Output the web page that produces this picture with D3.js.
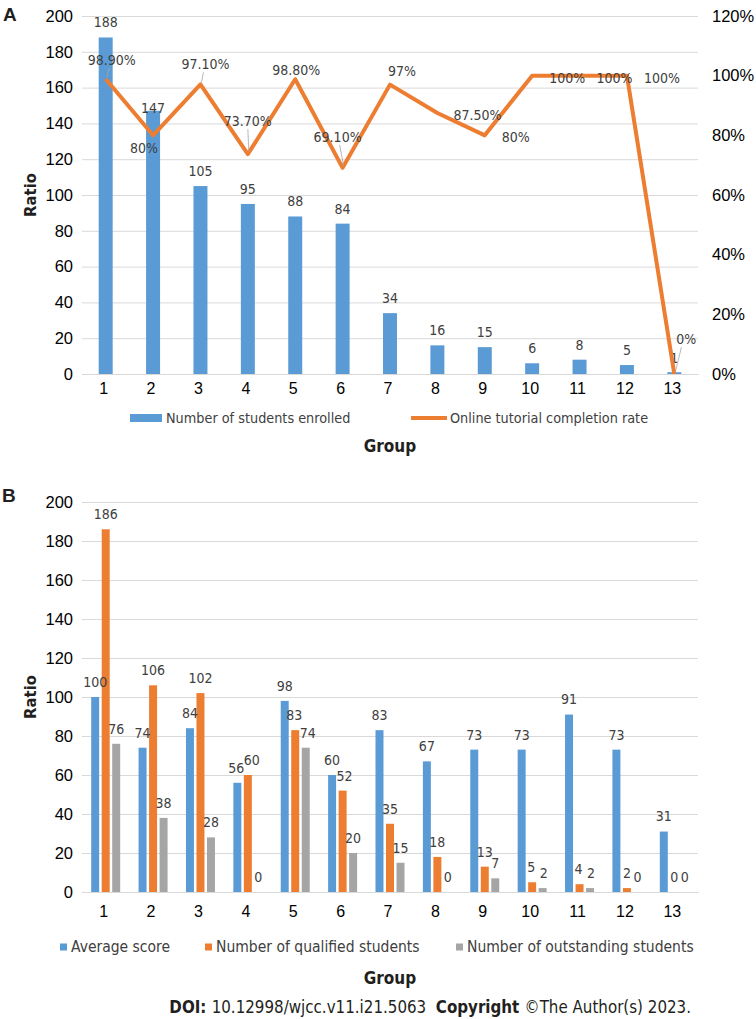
<!DOCTYPE html>
<html>
<head>
<meta charset="utf-8">
<script src="https://cdn.jsdelivr.net/npm/d3@7"></script>
<style>
  body { margin: 0; background: #fff; }
  svg { display: block; font-family: 'DejaVu Sans Condensed', 'DejaVu Sans', sans-serif; font-stretch: condensed; }
</style>
</head>
<body>
<div class="chart"></div>
<script>
// ---- data ----
const groups = ["1","2","3","4","5","6","7","8","9","10","11","12","13"];

// panel A
const enrolled = [188, 147, 105, 95, 88, 84, 34, 16, 15, 6, 8, 5, 1];
const completion = [98.9, 80, 97.1, 73.7, 98.8, 69.1, 97, 87.5, 80, 100, 100, 100, 0];
const completionLabels = ["98.90%","80%","97.10%","73.70%","98.80%","69.10%","97%","87.50%","80%","100%","100%","100%","0%"];
const ticksA = [0, 20, 40, 60, 80, 100, 120, 140, 160, 180, 200];
const ticksRight = [0, 20, 40, 60, 80, 100, 120];

// panel B
const avgScore = [100, 74, 84, 56, 98, 60, 83, 67, 73, 73, 91, 73, 31];
const qualified = [186, 106, 102, 60, 83, 52, 35, 18, 13, 5, 4, 2, 0];
const outstanding = [76, 38, 28, 0, 74, 20, 15, 0, 7, 2, 2, 0, 0];
const ticksB = [0, 20, 40, 60, 80, 100, 120, 140, 160, 180, 200];
const seriesB = ["Average score", "Number of qualified students", "Number of outstanding students"];

// label nudges (styling only): [dx, dy, draw leader line]
const lineLabelNudge = [[6,-19,1],[-9,13,0],[5,-20,1],[0,-33,1],[1,-9,0],[-5,-31,1],[12,-14,0],
  [40,2,0],[31,2,0],[35,2,0],[35,2,0],[35,2,0],[12,-35,1]];
const barLabelNudgeA = [-15,-3,-15,-15,-15,-15,-15,-15,-15,-15,-15,-15,-14];
// horizontal nudges for crowded labels in B: [group index, series index, dx]
const barLabelNudgeB = [[3,0,-1],[3,1,4],[4,1,-1],[4,2,2],[5,1,2],[9,1,-1],[9,2,1],[10,1,-1],[10,2,1]];

const blue = "#5B9BD5", orange = "#ED7D31", gray = "#A5A5A5";
const gridColor = "#D9D9D9", labelColor = "#404040", titleColor = "#231F20";

const W = 756, H = 1019;
const svg = d3.select(".chart").append("svg")
  .attr("width", W).attr("height", H);
svg.append("rect").attr("width", W).attr("height", H).attr("fill", "#fff");

const left = 82, right = 698;

function frame(g, y, ticks) {
  const yAx = g.append("g")
    .attr("transform", `translate(${left},0)`)
    .call(d3.axisLeft(y).tickValues(ticks).tickSize(-(right - left)).tickPadding(9));
  yAx.select(".domain").remove();
  yAx.selectAll(".tick line").attr("stroke", gridColor);
  yAx.selectAll(".tick text").attr("font-size", 16.5).attr("fill", "#000");
  return yAx;
}

function bottomAxis(g, x, y0, pad) {
  const ax = g.append("g")
    .attr("transform", `translate(0,${y0})`)
    .call(d3.axisBottom(x).tickSize(0).tickPadding(pad));
  ax.select(".domain").attr("stroke", gridColor);
  ax.selectAll(".tick text").attr("font-size", 16).attr("fill", "#000").attr("dx", -2);
}

// ================= Panel A =================
const gA = svg.append("g");
const xA = d3.scaleBand().domain(groups).range([left, right]).paddingInner(0.705).paddingOuter(0.3525);
const yA = d3.scaleLinear().domain([0, 200]).range([374, 16]);
const yR = d3.scaleLinear().domain([0, 120]).range([374, 16]);

frame(gA, yA, ticksA);
bottomAxis(gA, xA, 374, 9);

const rAx = gA.append("g")
  .attr("transform", `translate(${right},0)`)
  .call(d3.axisRight(yR).tickValues(ticksRight).tickSize(0).tickPadding(14).tickFormat(d => d + "%"));
rAx.select(".domain").remove();
rAx.selectAll(".tick text").attr("font-size", 16.5).attr("fill", "#000");

gA.append("g").selectAll("rect")
  .data(enrolled)
  .join("rect")
  .attr("x", (d, i) => xA(groups[i]))
  .attr("y", d => yA(d))
  .attr("width", xA.bandwidth())
  .attr("height", d => yA(0) - yA(d))
  .attr("fill", blue);

gA.append("g")
  .attr("font-size", 14)
  .attr("fill", labelColor)
  .attr("text-anchor", "middle")
  .selectAll("text")
  .data(enrolled)
  .join("text")
  .attr("x", (d, i) => xA(groups[i]) + xA.bandwidth() / 2)
  .attr("y", (d, i) => yA(d) + barLabelNudgeA[i])
  .attr("dy", "0.35em")
  .text(d => d);

const cx = (i) => xA(groups[i]) + xA.bandwidth() / 2;
const line = d3.line()
  .x((d, i) => cx(i))
  .y(d => yR(d));

gA.append("path")
  .datum(completion)
  .attr("fill", "none")
  .attr("stroke", orange)
  .attr("stroke-width", 4)
  .attr("stroke-linejoin", "round")
  .attr("d", line);

// leader lines
gA.append("g")
  .attr("stroke", "#A6A6A6")
  .attr("stroke-width", 0.8)
  .selectAll("line")
  .data(completion.map((d, i) => ({ v: d, i })).filter(d => lineLabelNudge[d.i][2]))
  .join("line")
  .attr("x1", d => cx(d.i) + lineLabelNudge[d.i][0] * 0.6)
  .attr("y1", d => yR(d.v) + lineLabelNudge[d.i][1] + (lineLabelNudge[d.i][1] < 0 ? 8 : -8))
  .attr("x2", d => cx(d.i) + 1)
  .attr("y2", d => yR(d.v) - 2);

gA.append("g")
  .attr("font-size", 14)
  .attr("fill", labelColor)
  .attr("text-anchor", "middle")
  .selectAll("text")
  .data(completion)
  .join("text")
  .attr("x", (d, i) => cx(i) + lineLabelNudge[i][0])
  .attr("y", (d, i) => yR(d) + lineLabelNudge[i][1])
  .attr("dy", "0.35em")
  .text((d, i) => completionLabels[i]);

// legend A
const legA = gA.append("g").attr("font-size", 14.3).attr("fill", labelColor);
legA.append("rect").attr("x", 130).attr("y", 414).attr("width", 32).attr("height", 8).attr("fill", blue);
legA.append("text").attr("x", 166).attr("y", 418).attr("dy", "0.35em").text("Number of students enrolled");
legA.append("line").attr("x1", 411).attr("x2", 447).attr("y1", 418).attr("y2", 418)
  .attr("stroke", orange).attr("stroke-width", 4);
legA.append("text").attr("x", 450).attr("y", 418).attr("dy", "0.35em").text("Online tutorial completion rate");

gA.append("text").attr("x", 390).attr("y", 446).attr("dy", "0.35em")
  .attr("text-anchor", "middle").attr("font-weight", "bold").attr("font-size", 17)
  .attr("fill", titleColor).text("Group");
gA.append("text").attr("transform", "translate(30,195) rotate(-90)").attr("dy", "0.35em")
  .attr("text-anchor", "middle").attr("font-weight", "bold").attr("font-size", 16.5)
  .attr("fill", titleColor).text("Ratio");
gA.append("text").attr("x", 3).attr("y", 21).attr("font-family", "'Liberation Sans', Arial, sans-serif")
  .attr("font-weight", "bold").attr("font-size", 19).attr("fill", titleColor).text("A");

// ================= Panel B =================
const gB = svg.append("g");
const xB = d3.scaleBand().domain(groups).range([left, right]).paddingInner(0.388).paddingOuter(0.194);
const xSub = d3.scaleBand().domain(seriesB).range([0, xB.bandwidth()]).paddingInner(0.24);
const yB = d3.scaleLinear().domain([0, 200]).range([892, 502]);
const colorB = d3.scaleOrdinal().domain(seriesB).range([blue, orange, gray]);

frame(gB, yB, ticksB);
bottomAxis(gB, xB, 892, 14);

const nudgeB = (gi, si) => {
  const n = barLabelNudgeB.find(r => r[0] === gi && r[1] === si);
  return n ? n[2] : 0;
};

const rowsB = groups.map((g, i) => ({
  group: g,
  values: [avgScore[i], qualified[i], outstanding[i]].map((v, k) => ({ key: seriesB[k], v, gi: i, si: k }))
}));

const grpB = gB.append("g").selectAll("g")
  .data(rowsB)
  .join("g")
  .attr("transform", d => `translate(${xB(d.group)},0)`);

grpB.selectAll("rect")
  .data(d => d.values)
  .join("rect")
  .attr("x", d => xSub(d.key))
  .attr("y", d => yB(d.v))
  .attr("width", xSub.bandwidth())
  .attr("height", d => yB(0) - yB(d.v))
  .attr("fill", d => colorB(d.key));

grpB.selectAll("text")
  .data(d => d.values)
  .join("text")
  .attr("x", d => xSub(d.key) + xSub.bandwidth() / 2 + nudgeB(d.gi, d.si))
  .attr("y", d => yB(d.v) - 15)
  .attr("dy", "0.35em")
  .attr("text-anchor", "middle")
  .attr("font-size", 14)
  .attr("fill", labelColor)
  .text(d => d.v);

// legend B
const legB = gB.append("g").attr("font-size", 15.5).attr("fill", labelColor);
const legX = [60, 205, 456];
seriesB.forEach((s, k) => {
  legB.append("rect").attr("x", legX[k]).attr("y", 943.5).attr("width", 7).attr("height", 7).attr("fill", colorB(s));
  legB.append("text").attr("x", legX[k] + 11).attr("y", 947).attr("dy", "0.35em").text(s);
});

gB.append("text").attr("x", 390).attr("y", 978).attr("dy", "0.35em")
  .attr("text-anchor", "middle").attr("font-weight", "bold").attr("font-size", 17)
  .attr("fill", titleColor).text("Group");
gB.append("text").attr("transform", "translate(30,697) rotate(-90)").attr("dy", "0.35em")
  .attr("text-anchor", "middle").attr("font-weight", "bold").attr("font-size", 16.5)
  .attr("fill", titleColor).text("Ratio");
gB.append("text").attr("x", 2).attr("y", 502).attr("font-family", "'Liberation Sans', Arial, sans-serif")
  .attr("font-weight", "bold").attr("font-size", 19).attr("fill", titleColor).text("B");

// footer
const foot = svg.append("text").attr("x", 691).attr("y", 1007).attr("dy", "0.35em")
  .attr("text-anchor", "end").attr("font-size", 16.8).attr("fill", titleColor);
foot.append("tspan").attr("font-weight", "bold").text("DOI: ");
foot.append("tspan").attr("xml:space", "preserve").text("10.12998/wjcc.v11.i21.5063\u00a0\u00a0");
foot.append("tspan").attr("font-weight", "bold").text("Copyright ");
foot.append("tspan").text("©The Author(s) 2023.");
</script>
</body>
</html>
